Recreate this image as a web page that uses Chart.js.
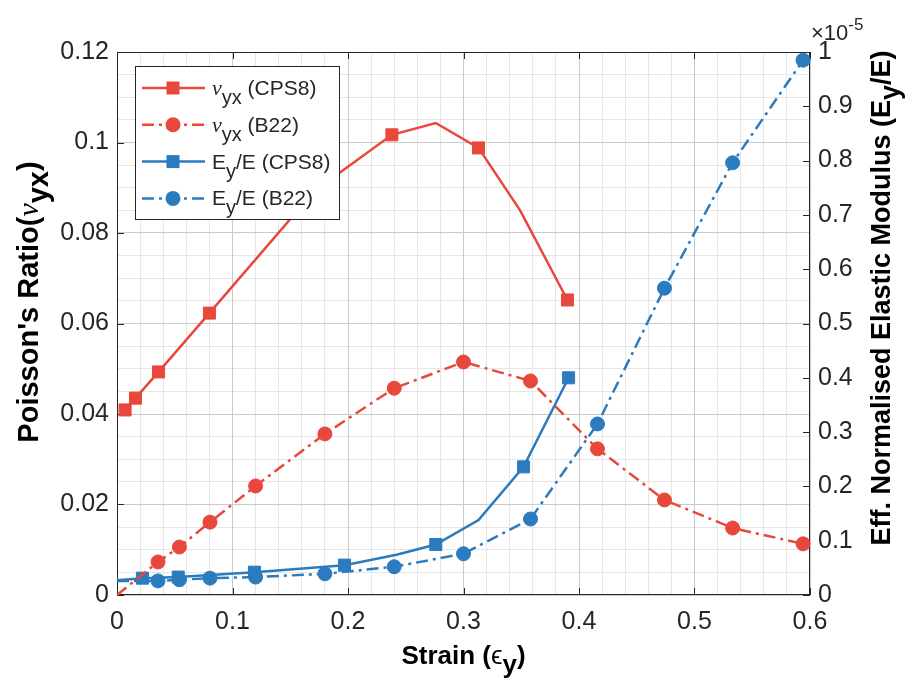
<!DOCTYPE html>
<html>
<head>
<meta charset="utf-8">
<script src="https://cdn.jsdelivr.net/npm/chart.js@4.4.1/dist/chart.umd.min.js"></script>
<style>
  body { margin: 0; background: #fff; }
  #wrap { width: 909px; height: 679px; }
</style>
</head>
<body>
<div id="wrap"><canvas id="chart" width="909" height="679"></canvas></div>
<script>
// nu_yx, CPS8 model (markers only where flag is 1)
const strainNuCps8 = [0.007, 0.016, 0.036, 0.080, 0.171, 0.238, 0.276, 0.313, 0.349, 0.390];
const nuCps8       = [0.0409, 0.0435, 0.0493, 0.0623, 0.0893, 0.1017, 0.1043, 0.0988, 0.0850, 0.0652];
const nuCps8Marks  = [1, 1, 1, 1, 0, 1, 0, 1, 0, 1];

// Ey/E, CPS8 model (x 1e-5)
const strainEyCps8 = [0.0, 0.022, 0.053, 0.119, 0.197, 0.242, 0.276, 0.313, 0.352, 0.391];
const eyCps8       = [0.027, 0.031, 0.033, 0.042, 0.055, 0.074, 0.093, 0.138, 0.236, 0.400];
const eyCps8Marks  = [0, 1, 1, 1, 1, 0, 1, 0, 1, 1];

// B22 model, shared strain points
const strainB22 = [0.0, 0.0355, 0.054, 0.0805, 0.120, 0.180, 0.240, 0.300, 0.358, 0.416, 0.474, 0.533, 0.594];
const nuB22     = [0.0, 0.0073, 0.0106, 0.0161, 0.0241, 0.0356, 0.0457, 0.0515, 0.0473, 0.0323, 0.0210, 0.0148, 0.0113];
const eyB22     = [0.026, 0.026, 0.028, 0.031, 0.033, 0.039, 0.052, 0.076, 0.140, 0.315, 0.565, 0.796, 0.985];
const b22Marks  = [0, 1, 1, 1, 1, 1, 1, 1, 1, 1, 1, 1, 1];

const xTickLabels     = ['0', '0.1', '0.2', '0.3', '0.4', '0.5', '0.6'];
const leftTickLabels  = ['0', '0.02', '0.04', '0.06', '0.08', '0.1', '0.12'];
const rightTickLabels = ['0', '0.1', '0.2', '0.3', '0.4', '0.5', '0.6', '0.7', '0.8', '0.9', '1'];

const RED = '#e8483b';
const BLUE = '#2b7bbf';
const DASHDOT = [12, 5, 3, 5];
const TICK_FONT = { family: '"Liberation Sans", Arial, sans-serif', size: 25 };
const INK = '#262626';

const pts = (xs, ys) => xs.map((x, i) => ({ x: x, y: ys[i] }));
const radii = (flags, r) => flags.map(f => f ? r : 0);

function series(label, xs, ys, flags, color, dash, style, r, axis) {
  return {
    label: label,
    data: pts(xs, ys),
    yAxisID: axis,
    borderColor: color,
    backgroundColor: color,
    borderWidth: 2.5,
    borderDash: dash,
    pointStyle: style,
    pointRadius: radii(flags, r),
    pointBorderWidth: 1,
    pointBorderColor: color,
    pointBackgroundColor: color,
    tension: 0,
    clip: false
  };
}

const datasets = [
  series('νyx (CPS8)', strainNuCps8, nuCps8, nuCps8Marks, RED, [], 'rect', 8.5, 'y'),
  series('νyx (B22)', strainB22, nuB22, b22Marks, RED, DASHDOT, 'circle', 7, 'y'),
  series('Ey/E (CPS8)', strainEyCps8, eyCps8, eyCps8Marks, BLUE, [], 'rect', 8.5, 'y2'),
  series('Ey/E (B22)', strainB22, eyB22, b22Marks, BLUE, DASHDOT, 'circle', 7, 'y2')
];

// rich text: runs of {t, font, dy}
function drawRuns(ctx, runs, x, y, align) {
  let w = 0;
  runs.forEach(r => { ctx.font = r.font; r.w = ctx.measureText(r.t).width; w += r.w; });
  let cx = align === 'left' ? x : x - w / 2;
  runs.forEach(r => { ctx.font = r.font; ctx.fillText(r.t, cx, y + (r.dy || 0)); cx += r.w; });
}

const SANS = '"Liberation Sans", Arial, sans-serif';
const SERIF = '"Liberation Serif", "Times New Roman", serif';

const legendRuns = [
  [{ t: 'ν', font: 'italic 22px ' + SERIF }, { t: 'yx', font: '20px ' + SANS, dy: 9 }, { t: ' (CPS8)', font: '21px ' + SANS }],
  [{ t: 'ν', font: 'italic 22px ' + SERIF }, { t: 'yx', font: '20px ' + SANS, dy: 9 }, { t: ' (B22)', font: '21px ' + SANS }],
  [{ t: 'E', font: '21px ' + SANS }, { t: 'y', font: '20px ' + SANS, dy: 9 }, { t: '/E (CPS8)', font: '21px ' + SANS }],
  [{ t: 'E', font: '21px ' + SANS }, { t: 'y', font: '20px ' + SANS, dy: 9 }, { t: '/E (B22)', font: '21px ' + SANS }]
];

const frame = {
  id: 'frame',
  beforeDatasetsDraw(chart) {
    const { ctx, chartArea: a, scales } = chart;
    ctx.save();
    ctx.strokeStyle = INK;
    ctx.lineWidth = 1;
    ctx.strokeRect(a.left + 0.5, a.top + 0.5, a.right - a.left - 1, a.bottom - a.top - 1);
    const L = 7;
    ctx.beginPath();
    scales.x.ticks.forEach(t => {
      const px = Math.round(scales.x.getPixelForValue(t.value)) + 0.5;
      ctx.moveTo(px, a.bottom); ctx.lineTo(px, a.bottom - L);
      ctx.moveTo(px, a.top); ctx.lineTo(px, a.top + L);
    });
    scales.y.ticks.forEach(t => {
      const py = Math.round(scales.y.getPixelForValue(t.value)) + 0.5;
      ctx.moveTo(a.left, py); ctx.lineTo(a.left + L, py);
    });
    scales.y2.ticks.forEach(t => {
      const py = Math.round(scales.y2.getPixelForValue(t.value)) + 0.5;
      ctx.moveTo(a.right, py); ctx.lineTo(a.right - L, py);
    });
    ctx.stroke();
    ctx.restore();
  },
  afterDraw(chart) {
    const { ctx, chartArea: a } = chart;
    ctx.save();
    ctx.textBaseline = 'alphabetic';

    // axis titles
    ctx.fillStyle = '#000';
    const bold = 'bold 26px ' + SANS;
    drawRuns(ctx, [
      { t: 'Strain (', font: bold },
      { t: 'ϵ', font: '26px ' + SANS },
      { t: 'y', font: bold, dy: 9 },
      { t: ')', font: bold }
    ], (a.left + a.right) / 2, 664, 'center');

    const boldL = 'bold 29px ' + SANS;
    ctx.save();
    ctx.translate(38, 302);
    ctx.rotate(-Math.PI / 2);
    drawRuns(ctx, [
      { t: "Poisson's Ratio(", font: boldL },
      { t: 'ν', font: 'italic 30px ' + SERIF },
      { t: 'yx', font: boldL, dy: 10 },
      { t: ')', font: boldL }
    ], 0, 0, 'center');
    ctx.restore();

    const boldR = 'bold 27px ' + SANS;
    ctx.save();
    ctx.translate(890, 298);
    ctx.rotate(-Math.PI / 2);
    drawRuns(ctx, [
      { t: 'Eff. Normalised Elastic Modulus (E', font: boldR },
      { t: 'y', font: boldR, dy: 9 },
      { t: '/E)', font: boldR }
    ], 0, 0, 'center');
    ctx.restore();

    // exponent label of right axis
    ctx.fillStyle = INK;
    drawRuns(ctx, [
      { t: '×10', font: '22px ' + SANS },
      { t: '-5', font: '17px ' + SANS, dy: -10 }
    ], 811, 40, 'left');

    // legend
    const lx = 135, ly = 66, lw = 204, lh = 153;
    ctx.fillStyle = '#fff';
    ctx.fillRect(lx, ly, lw, lh);
    ctx.strokeStyle = INK;
    ctx.lineWidth = 1;
    ctx.strokeRect(lx + 0.5, ly + 0.5, lw, lh);
    chart.data.datasets.forEach((ds, i) => {
      const y = 88 + i * 36.8;
      ctx.strokeStyle = ds.borderColor;
      ctx.fillStyle = ds.borderColor;
      ctx.lineWidth = ds.borderWidth;
      ctx.setLineDash(ds.borderDash);
      ctx.beginPath();
      ctx.moveTo(142, y); ctx.lineTo(205, y);
      ctx.stroke();
      ctx.setLineDash([]);
      const mx = 173;
      ctx.beginPath();
      if (ds.pointStyle === 'rect') {
        ctx.rect(mx - 6.5, y - 6.5, 13, 13);
      } else {
        ctx.arc(mx, y, 7.5, 0, Math.PI * 2);
      }
      ctx.fill();
      ctx.fillStyle = INK;
      drawRuns(ctx, legendRuns[i], 212, y + 7, 'left');
    });
    ctx.restore();
  }
};

const fmt = labels => (v) => {
  const s = String(Number(v.toFixed(4)));
  return labels.includes(s) ? s : '';
};

new Chart(document.getElementById('chart'), {
  type: 'line',
  data: { datasets: datasets },
  options: {
    responsive: false,
    animation: false,
    events: [],
    layout: { padding: { top: 52, left: 0, right: 0, bottom: 0 } },
    plugins: { legend: { display: false }, tooltip: { enabled: false } },
    scales: {
      x: {
        type: 'linear', position: 'bottom', min: 0, max: 0.6,
        ticks: { stepSize: 0.1, autoSkip: false, maxRotation: 0, padding: 12, color: INK, font: TICK_FONT, callback: fmt(xTickLabels) },
        grid: { color: '#cacaca', drawTicks: false, z: -1 },
        border: { display: false },
        afterFit(s) { s.height = 84; }
      },
      xMinor: {
        type: 'linear', position: 'bottom', min: 0, max: 0.6,
        ticks: { display: false, stepSize: 0.02 },
        grid: { color: '#e6e6e6', drawTicks: false, z: -2 },
        border: { display: false },
        afterFit(s) { s.height = 0; }
      },
      y: {
        type: 'linear', position: 'left', min: 0, max: 0.12,
        ticks: { stepSize: 0.02, padding: 8, color: INK, font: TICK_FONT, callback: fmt(leftTickLabels) },
        grid: { color: '#cacaca', drawTicks: false, z: -1 },
        border: { display: false },
        afterFit(s) { s.width = 117; }
      },
      yMinor: {
        type: 'linear', position: 'left', min: 0, max: 0.12,
        ticks: { display: false, stepSize: 0.005 },
        grid: { color: '#e6e6e6', drawTicks: false, z: -2 },
        border: { display: false },
        afterFit(s) { s.width = 0; }
      },
      y2: {
        type: 'linear', position: 'right', min: 0, max: 1,
        ticks: { stepSize: 0.1, padding: 8, color: INK, font: TICK_FONT, callback: fmt(rightTickLabels) },
        grid: { drawOnChartArea: false, drawTicks: false },
        border: { display: false },
        afterFit(s) { s.width = 99; }
      }
    }
  },
  plugins: [frame]
});
</script>
</body>
</html>
